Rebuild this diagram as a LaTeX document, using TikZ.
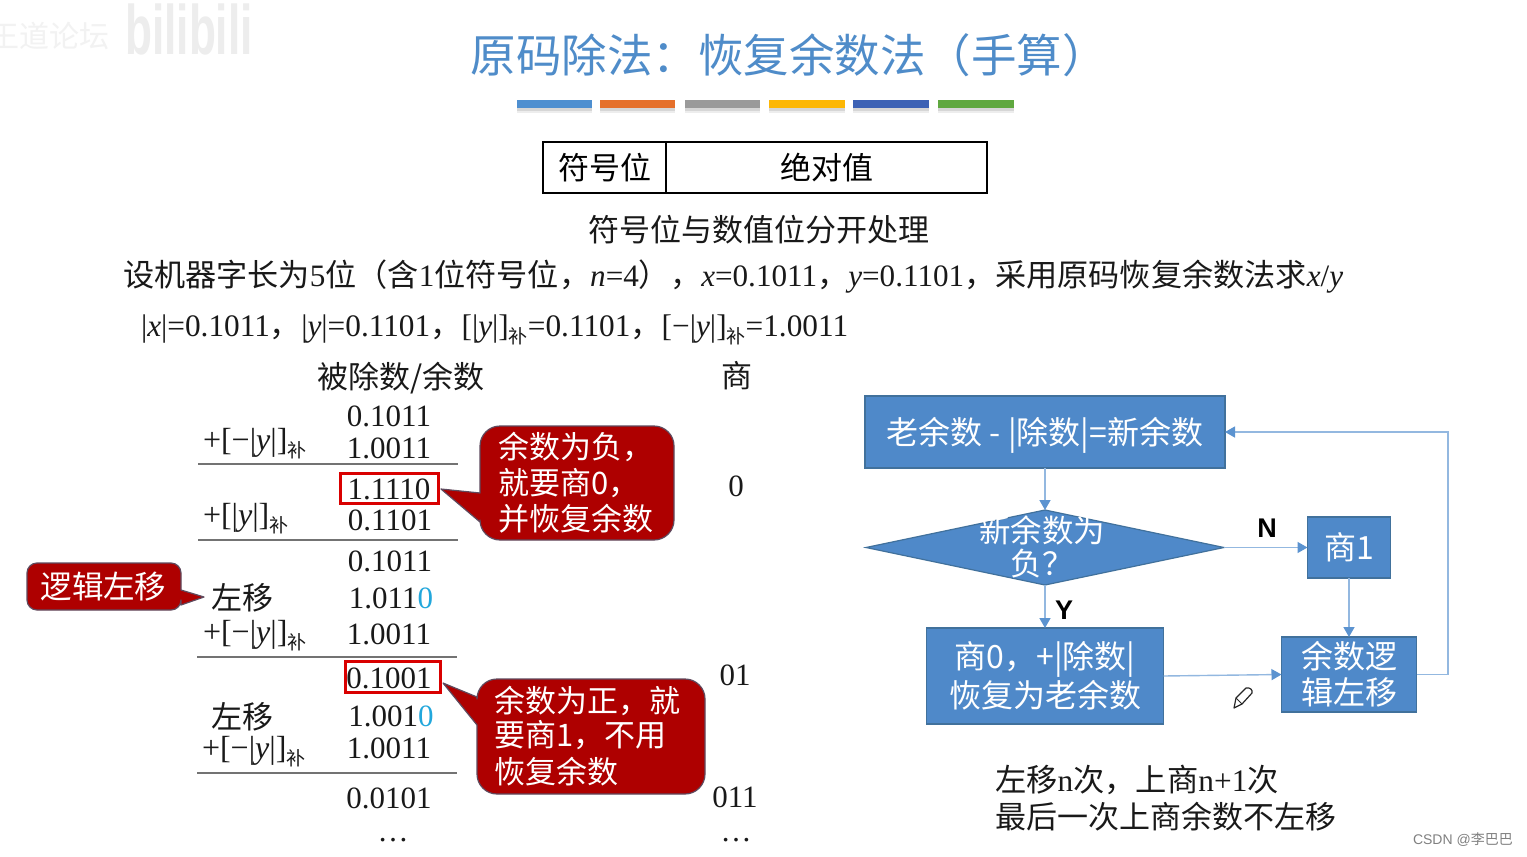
\documentclass[tikz,border=0pt]{standalone}
\usepackage{fontspec}
\setmainfont{Liberation Serif}
\newfontfamily\cjk{Noto Sans CJK SC}
\newfontfamily\lsans{Liberation Sans}
\usetikzlibrary{shapes.geometric,arrows.meta}
\newcommand\FS[1]{\fontsize{#1}{#1}\selectfont}
\newcommand\CJ[1]{{\cjk #1}}
\newcommand\Bu{\raisebox{-7pt}{\cjk\FS{19}补}}
\newcommand\Dn[1]{\raisebox{-3pt}[\height][\depth]{#1}}
\definecolor{boxblue}{HTML}{4F89C9}
\definecolor{boxedge}{HTML}{41719C}
\definecolor{flowline}{HTML}{93B8E0}
\definecolor{flowtip}{HTML}{5B93D0}
\definecolor{callred}{HTML}{AE0000}
\definecolor{calledge}{HTML}{5F4A5E}
\definecolor{titleblue}{HTML}{4F8CC9}
\definecolor{zeroblue}{HTML}{22A7DC}
\tikzset{
  x=1pt,y=-1pt,
  txt/.style={inner sep=0pt,outer sep=0pt,text=black!90,font=\FS{31.3}},
  num/.style={txt,font=\FS{31}},
  oplabel/.style={txt,anchor=west,font=\FS{32}},
  ruleline/.style={draw=black!55,line width=1.3pt},
  redbox/.style={draw=red!85!black,line width=3pt,fill=none,inner sep=0pt},
  fbox/.style={draw=boxedge,line width=1.2pt,fill=boxblue,inner sep=0pt,outer sep=0pt,text=white,align=center,font=\cjk\FS{32}},
  flow/.style={draw=flowline,line width=1.4pt,-{Triangle[length=10pt,width=11pt,color=flowtip]}},
  call/.style={fill=callred,draw=calledge,line width=1.2pt,line join=round},
  calltext/.style={inner sep=0pt,text=white,align=left,font=\cjk\FS{31}},
}
\begin{document}
\begin{tikzpicture}
\useasboundingbox (0,0) rectangle (1527,857);
\fill[white] (0,0) rectangle (1527,857);
% watermark
\node[inner sep=0pt,text=black!5,font=\cjk\FS{30}] (wm1) at (50,36) {王道论坛};
\node[inner sep=0pt,text=black!7,font=\lsans\bfseries\FS{70},xscale=.63] (wm2) at (189,29) {bilibili};
% title
\node[txt,text=titleblue,font=\cjk\FS{45.5}] (title) at (789,55) {原码除法：恢复余数法（手算）};
% bars
\foreach \a/\b/\c in {517/592/4E8FD0,600/675/E5702B,685/760/9A9A9A,769/845/FDB705,853/929/3D62B5,938/1014/5FA83F}{
  \definecolor{barc}{HTML}{\c}
  \fill[black!7] (\a,104) rectangle (\b,113);
  \fill[black!16] (\a,104) rectangle (\b,111);
  \fill[barc] (\a,100) rectangle (\b,108);
}
% table
\node[draw=black,line width=1.8pt,minimum width=123pt,minimum height=51pt,inner sep=0pt,outer sep=0pt,font=\cjk\FS{31}] (sign) at (604.5,167.5) {符号位};
\node[draw=black,line width=1.8pt,minimum width=321pt,minimum height=51pt,inner sep=0pt,outer sep=0pt,font=\cjk\FS{31}] (abs) at (826.5,167.5) {绝对值};
% statements
\node[txt,font=\cjk\FS{31}] (sep) at (759,230) {符号位与数值位分开处理};
\node[txt,anchor=west,font=\FS{31.15}] (line1) at (123,277) {\CJ{设机器字长为}5\CJ{位（含}1\CJ{位符号位，}\textit{n}=4\CJ{），}\textit{x}=0.1011\CJ{，}\textit{y}=0.1101\CJ{，采用原码恢复余数法求}\textit{x}/\textit{y}};
\node[txt,anchor=west] (line2) at (141,329.5) {|\textit{x}|=0.1011\CJ{，}|\textit{y}|=0.1101\CJ{，}[|\textit{y}|]\Bu=0.1101\CJ{，}[−|\textit{y}|]\Bu=1.0011};
% headers
\node[txt,font=\cjk\FS{31}] (hdr) at (401,378) {被除数/余数};
\node[txt,font=\cjk\FS{31}] (hq) at (737,376) {商};
% numbers
\node[num] (n1) at (389,416) {0.1011};
\node[num] (n2) at (389,448) {1.0011};
\node[num] (n3) at (389,489) {1.1110};
\node[num] (n4) at (390,520) {0.1101};
\node[num] (n5) at (390,561) {0.1011};
\node[num] (n6) at (391,598) {1.011\textcolor{zeroblue}{0}};
\node[num] (n7) at (389,634) {1.0011};
\node[num] (n8) at (389,678) {0.1001};
\node[num] (n9) at (391,716) {1.001\textcolor{zeroblue}{0}};
\node[num] (n10) at (389,748) {1.0011};
\node[num] (n11) at (389,798) {0.0101};
\node[num] (n12) at (393,840) {…};
% quotients
\node[num] (q1) at (736,486) {0};
\node[num] (q2) at (735,675) {01};
\node[num] (q3) at (735,797) {011};
\node[num] (q4) at (736,840) {…};
% operand labels
\node[oplabel] (op1) at (203,444) {+[−|\textit{y}|]\Bu};
\node[oplabel] (op2) at (203,519) {+[|\textit{y}|]\Bu};
\node[txt,anchor=west,font=\cjk\FS{31}] (ls1) at (211,598) {左移};
\node[oplabel] (op3) at (203,636) {+[−|\textit{y}|]\Bu};
\node[txt,anchor=west,font=\cjk\FS{31}] (ls2) at (211,717) {左移};
\node[oplabel] (op4) at (202,752) {+[−|\textit{y}|]\Bu};
% rules
\draw[ruleline] (198,464) -- (458,464);
\draw[ruleline] (198,540) -- (458,540);
\draw[ruleline] (197,657) -- (457,657);
\draw[ruleline] (197,773) -- (457,773);
% red boxes
\node[redbox,minimum width=98pt,minimum height=30pt] (rb1) at (389,488) {};
\node[redbox,minimum width=95pt,minimum height=31pt] (rb2) at (392.5,676.5) {};
% callouts
\draw[call] (500,426) -- (654,426) arc[start angle=-90,end angle=0,radius=20] -- (674,520) arc[start angle=0,end angle=90,radius=20] -- (500,540) arc[start angle=90,end angle=180,radius=20] -- (480,522) -- (441,489) -- (480,493) -- (480,446) arc[start angle=180,end angle=270,radius=20] -- cycle;
\node[calltext,anchor=north west] (c1) at (498,432) {余数为负，\\[4.8pt]就要商0，\\[4.8pt]并恢复余数};
\draw[call] (497,679) -- (685,679) arc[start angle=-90,end angle=0,radius=20] -- (705,774) arc[start angle=0,end angle=90,radius=20] -- (497,794) arc[start angle=90,end angle=180,radius=20] -- (477,725) -- (443,683) -- (477,697) -- (477,699) arc[start angle=180,end angle=270,radius=20] -- cycle;
\node[calltext,anchor=north west] (c2) at (494,685.5) {余数为正，就\\[3.5pt]要商1，不用\\[6pt]恢复余数};
\draw[call] (37,563) -- (171,563) arc[start angle=-90,end angle=0,radius=10] -- (181,590) -- (204,597) -- (181,605) -- (181,600) arc[start angle=0,end angle=90,radius=10] -- (37,610) arc[start angle=90,end angle=180,radius=10] -- (27,573) arc[start angle=180,end angle=270,radius=10] -- cycle;
\node[calltext,font=\cjk\FS{31.5}] (c3) at (103.5,587) {逻辑左移};
% flowchart
\node[fbox,minimum width=360pt,minimum height=72pt] (old) at (1045,432) {\Dn{老余数 - |除数|=新余数}};
\node[diamond,aspect=4.77,draw=boxedge,line width=1.2pt,fill=boxblue,inner sep=0pt,outer sep=0pt,minimum width=358pt,minimum height=75pt] (dia) at (1045,547.5) {};
\node[inner sep=0pt,text=white,align=center,font=\cjk\FS{31.5}] (diat) at (1042,547) {新余数为\\[2pt]负？};
\node[fbox,minimum width=83pt,minimum height=61pt] (one) at (1349,547.5) {商1};
\node[fbox,minimum width=237pt,minimum height=96pt] (zero) at (1045,676) {商0，+|除数|\\[2pt]恢复为老余数};
\node[fbox,minimum width=135pt,minimum height=75pt] (shift) at (1349,674.5) {余数逻\\[4pt]辑左移};
\coordinate (rt) at (1448,432);
\draw[flow] (old.south) -- (dia.north);
\draw[flow] (dia.south) -- (zero.north);
\draw[flow] (dia.east) -- (one.west);
\draw[flow] (one.south) -- (shift.north);
\draw[flow] (zero.east) -- (shift.west);
\draw[flow] (shift.east) -| (rt) -- (old.east);
\node[inner sep=0pt,font=\lsans\bfseries\FS{27}] (lN) at (1267,528) {N};
\node[inner sep=0pt,font=\lsans\bfseries\FS{27}] (lY) at (1064,610) {Y};
% pencil
\draw[black!85,fill=white,line width=1.2pt,line join=round] (1234,708) -- (1236,698) -- (1246,688) .. controls (1250,687) and (1253,690) .. (1252,693) -- (1242,704) -- cycle;
\draw[black!85,line width=0.9pt] (1236,698) -- (1242,704);
% notes
\node[txt,anchor=west] (nt1) at (995,780) {\CJ{左移}n\CJ{次，上商}n+1\CJ{次}};
\node[txt,anchor=west,font=\cjk\FS{31}] (nt2) at (995,817) {最后一次上商余数不左移};
\node[inner sep=0pt,anchor=east,text=black!50,font=\FS{14}] (cs) at (1513,840) {\lsans CSDN @\cjk 李巴巴};
\end{tikzpicture}
\end{document}
